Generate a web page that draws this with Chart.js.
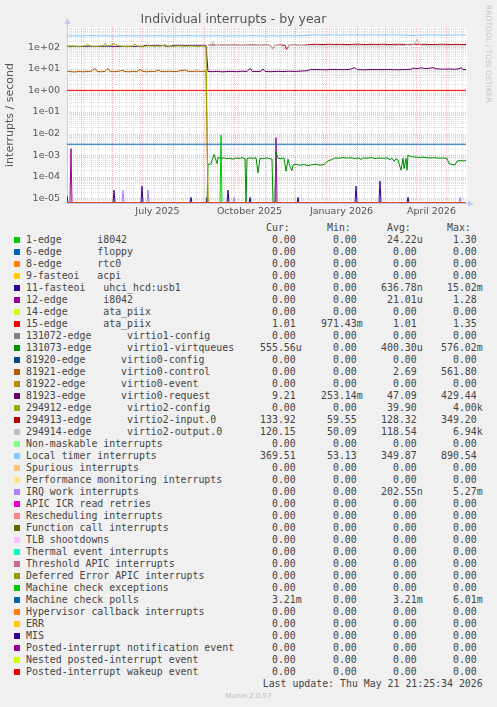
<!DOCTYPE html>
<html>
<head>
<meta charset="utf-8">
<script src="https://cdn.jsdelivr.net/npm/chart.js@4.4.1/dist/chart.umd.min.js"></script>
<style>
  html, body { margin: 0; padding: 0; background: #f0f0f0; }
  body { width: 497px; height: 707px; position: relative; overflow: hidden; }
  #chart { position: absolute; left: 0; top: 0; }
  .mono { position: absolute; white-space: pre; font-family: "DejaVu Sans Mono", monospace; font-size: 9.9px; line-height: 12px; color: #444; }
  .box { position: absolute; width: 6px; height: 6px; }
  #watermark { position: absolute; left: 484px; top: 5px; writing-mode: vertical-rl; font-family: "DejaVu Sans", sans-serif; font-size: 7.6px; line-height: 8px; color: #c4c4c4; white-space: nowrap; }
  #munin { position: absolute; left: 0; width: 497px; top: 691px; text-align: center; font-family: "DejaVu Sans", sans-serif; font-size: 7px; line-height: 10px; color: #bbb; }
</style>
</head>
<body>
<canvas id="chart" width="497" height="222"></canvas>
<div id="legend"></div>
<div id="watermark">RRDTOOL / TOBI OETIKER</div>
<div id="munin">Munin 2.0.57</div>
<script>
// x values are days since 17 Apr 2025 (left edge of the graph)
const xTickDays = [90.5, 182.5, 274.5, 364.5];
const xTickLabels = ["July 2025", "October 2025", "January 2026", "April 2026"];
const monthStartDays = [14, 45, 75, 106, 137, 167, 198, 228, 259, 290, 318, 349, 379];
const yTickValues = [1e-5, 1e-4, 1e-3, 1e-2, 1e-1, 1e0, 1e1, 1e2];
const yTickLabels = ["1e-05", "1e-04", "1e-03", "1e-02", "1e-01", "1e+00", "1e+01", "1e+02"];

const legendNames = [
  "1-edge      i8042", "6-edge      floppy", "8-edge      rtc0", "9-fasteoi   acpi",
  "11-fasteoi   uhci_hcd:usb1", "12-edge      i8042", "14-edge      ata_piix", "15-edge      ata_piix",
  "131072-edge      virtio1-config", "131073-edge      virtio1-virtqueues",
  "81920-edge      virtio0-config", "81921-edge      virtio0-control", "81922-edge      virtio0-event",
  "81923-edge      virtio0-request", "294912-edge      virtio2-config", "294913-edge      virtio2-input.0",
  "294914-edge      virtio2-output.0", "Non-maskable interrupts", "Local timer interrupts",
  "Spurious interrupts", "Performance monitoring interrupts", "IRQ work interrupts",
  "APIC ICR read retries", "Rescheduling interrupts", "Function call interrupts", "TLB shootdowns",
  "Thermal event interrupts", "Threshold APIC interrupts", "Deferred Error APIC interrupts",
  "Machine check exceptions", "Machine check polls", "Hypervisor callback interrupts", "ERR", "MIS",
  "Posted-interrupt notification event", "Nested posted-interrupt event", "Posted-interrupt wakeup event"
];
const curValues = ["0.00","0.00","0.00","0.00","0.00","0.00","0.00","1.01","0.00","555.56u","0.00","0.00","0.00","9.21","0.00","133.92","120.15","0.00","369.51","0.00","0.00","0.00","0.00","0.00","0.00","0.00","0.00","0.00","0.00","0.00","3.21m","0.00","0.00","0.00","0.00","0.00","0.00"];
const minValues = ["0.00","0.00","0.00","0.00","0.00","0.00","0.00","971.43m","0.00","0.00","0.00","0.00","0.00","253.14m","0.00","59.55","50.09","0.00","53.13","0.00","0.00","0.00","0.00","0.00","0.00","0.00","0.00","0.00","0.00","0.00","0.00","0.00","0.00","0.00","0.00","0.00","0.00"];
const avgValues = ["24.22u","0.00","0.00","0.00","636.78n","21.01u","0.00","1.01","0.00","400.30u","0.00","2.69","0.00","47.09","39.90","128.32","118.54","0.00","349.87","0.00","0.00","202.55n","0.00","0.00","0.00","0.00","0.00","0.00","0.00","0.00","3.21m","0.00","0.00","0.00","0.00","0.00","0.00"];
const maxValues = ["1.30","0.00","0.00","0.00","15.02m","1.28","0.00","1.35","0.00","576.02m","0.00","561.80","0.00","429.44","4.00k","349.20","6.94k","0.00","890.54","0.00","0.00","5.27m","0.00","0.00","0.00","0.00","0.00","0.00","0.00","0.00","6.01m","0.00","0.00","0.00","0.00","0.00","0.00"];

// munin default palette
const colors = ["#00cc00","#0066b3","#ff8000","#ffcc00","#330099","#990099","#ccff00","#ff0000","#808080","#008f00",
  "#00487d","#b35a00","#b38f00","#6b006b","#8fb300","#b30000","#bebebe","#80ff80","#80c9ff","#ffc080",
  "#ffe680","#aa80ff","#ee00cc","#ff8080","#666600","#ffbfff","#00ffcc","#cc6699","#999900","#00cc00",
  "#0066b3","#ff8000","#ffcc00","#330099","#990099","#ccff00","#ff0000"];

// [day, value] pairs
const zeroSeries = [[0, 0], [399, 0]];
const edge1 = [[0, 0], [153, 0], [154, 0.0085], [155, 0], [399, 0]];
const fasteoi11 = [[0, 0.000013], [1, 0], [46, 0], [47, 0.000024], [48, 0], [74, 0], [75, 0.000037], [76, 0],
  [123, 0], [124, 0.000011], [125, 0], [139, 0], [140, 0.000011], [141, 0], [160, 0], [161, 0.000024], [162, 0],
  [182, 0], [183, 0.000011], [184, 0], [230, 0], [231, 0.000011], [232, 0], [288, 0], [289, 0.000037], [290, 0],
  [312, 0], [313, 0.000063], [314, 0], [340, 0], [341, 0.000011], [342, 0], [399, 0]];
const edge12 = [[0, 0], [3, 0], [4, 0.002], [5, 0], [208, 0], [209, 0.0065], [210, 0], [399, 0]];
const edge15 = [[0, 1.01], [399, 1.01]];
const edge131073 = [[0, 0], [140, 0], [141, 0.00037], [144, 0.0004], [147, 0.00108], [150, 0.00041], [151, 0.00078],
  [154, 0.0007], [157, 0.00075], [160, 0.00068], [163, 0.00072], [166, 0.00065], [169, 0.00074], [172, 0.0007],
  [175, 0.00077], [178, 0.00068], [179, 0], [180, 0.0007], [183, 0.00074], [186, 0.00071], [189, 0.00076],
  [191, 0.00015], [193, 0.00072], [196, 0.00068], [199, 0.00075], [202, 0.0007], [205, 0.00066], [206, 0],
  [208, 0], [209, 0.00142], [211, 0.00072], [214, 0.00068], [217, 0.00075], [219, 0.00018], [221, 0.00065],
  [223, 0.00029], [225, 0.00019], [226, 0.00035], [229, 0.00038], [233, 0.00034], [237, 0.00037], [241, 0.00033],
  [245, 0.00036], [249, 0.00038], [253, 0.00034], [257, 0.00037], [261, 0.00054], [265, 0.00063], [268, 0.00075],
  [272, 0.00072], [276, 0.00078], [280, 0.00073], [284, 0.00076], [288, 0.0007], [292, 0.00074], [294, 0.00062],
  [296, 0.00075], [300, 0.00072], [304, 0.00077], [308, 0.0007], [312, 0.00074], [316, 0.00071], [320, 0.00075],
  [323, 0.00062], [325, 0.00072], [327, 0.00052], [329, 0.00068], [331, 0.0006], [334, 0.0002], [336, 0.00072],
  [337, 0.00024], [339, 0.0007], [340, 0.0002], [341, 0.001], [344, 0.00085], [348, 0.00082], [352, 0.00078],
  [356, 0.0008], [360, 0.00076], [364, 0.00074], [368, 0.00077], [372, 0.00072], [376, 0.00074], [380, 0.0007],
  [382, 0.00041], [385, 0.00037], [388, 0.00035], [390, 0.00053], [393, 0.00056], [396, 0.00054], [399, 0.00056]];
const edge81921 = [[0, 7.8], [4, 7.4], [8, 7.2], [12, 7.6], [16, 7.3], [20, 7.5], [24, 7.8], [28, 10.5], [30, 7.6],
  [34, 7.3], [38, 7.7], [41, 10.5], [43, 7.5], [48, 7.4], [52, 7.8], [55, 8.6], [58, 7.5], [62, 7.3], [66, 7.6],
  [70, 7.4], [73, 9.4], [76, 7.6], [80, 7.3], [84, 7.7], [88, 7.5], [91, 8.8], [94, 7.6], [98, 7.4], [102, 7.8],
  [106, 7.5], [110, 7.6], [114, 8.3], [118, 9.0], [121, 7.7], [125, 7.5], [129, 7.9], [133, 7.6], [137, 7.7],
  [139, 7.5], [141, 0], [399, 0]];
const edge81923 = [[0, 110], [3, 112], [10, 109], [20, 111], [30, 110], [40, 112], [50, 110], [60, 111], [70, 110],
  [76, 112], [78, 124], [84, 122], [90, 125], [96, 121], [99, 112], [104, 113], [106, 123], [112, 125], [118, 122],
  [124, 124], [130, 123], [136, 125], [139, 122], [141, 7.6], [146, 7.4], [150, 7.7], [155, 7.3], [160, 7.5],
  [165, 7.6], [170, 7.4], [175, 7.8], [180, 7.6], [183, 10.6], [185, 7.7], [190, 7.5], [194, 7.8], [196, 9.9],
  [198, 7.6], [204, 7.4], [210, 7.7], [216, 7.5], [222, 7.8], [228, 7.6], [234, 7.9], [240, 8.2], [243, 9.2],
  [250, 9.3], [258, 9.1], [266, 9.4], [274, 9.2], [282, 9.3], [288, 11.4], [290, 9.2], [298, 9.1], [306, 9.3],
  [314, 9.2], [322, 9.4], [330, 9.1], [338, 9.3], [344, 9.6], [346, 10.8], [350, 10.3], [354, 11.2], [358, 10.4],
  [362, 10.6], [366, 11.3], [370, 10.0], [376, 9.7], [382, 9.9], [388, 9.6], [392, 10.1], [394, 11.4], [396, 9.5],
  [399, 9.2]];
const edge294912 = [[0, 112], [6, 114], [12, 110], [18, 116], [21, 140], [23, 113], [30, 110], [36, 118], [38, 150],
  [40, 113], [45, 132], [47, 148], [50, 124], [55, 112], [60, 110], [66, 114], [68, 142], [70, 112], [76, 110],
  [82, 116], [88, 112], [94, 113], [98, 135], [100, 112], [106, 110], [112, 115], [118, 112], [124, 114],
  [130, 111], [136, 113], [139, 112], [141, 0], [399, 0]];
const edge294913 = [[141, 125], [146, 128], [150, 124], [156, 127], [162, 125], [168, 128], [174, 124], [180, 126],
  [186, 129], [192, 125], [198, 127], [203, 124], [206, 85], [208, 124], [214, 128], [218, 123], [220, 78],
  [222, 125], [228, 127], [234, 124], [240, 128], [244, 136], [250, 138], [256, 135], [262, 139], [268, 136],
  [274, 138], [280, 134], [286, 137], [292, 139], [298, 135], [304, 138], [310, 136], [316, 139], [322, 134],
  [328, 137], [334, 138], [340, 135], [346, 139], [352, 136], [358, 138], [364, 134], [370, 137], [376, 139],
  [382, 135], [388, 137], [394, 136], [399, 134]];
const edge294914 = [[141, 122], [144, 124], [146, 180], [148, 122], [154, 120], [160, 123], [166, 121], [172, 124],
  [178, 120], [184, 122], [190, 121], [196, 123], [203, 120], [206, 80], [208, 121], [214, 122], [220, 74],
  [222, 120], [228, 121], [234, 119], [240, 120], [244, 116], [250, 115], [256, 117], [262, 114], [268, 116],
  [274, 115], [280, 117], [286, 114], [292, 116], [298, 115], [304, 117], [310, 114], [316, 116], [322, 115],
  [328, 117], [332, 125], [336, 118], [340, 130], [344, 122], [348, 150], [350, 240], [352, 150], [354, 124],
  [358, 118], [364, 116], [370, 115], [376, 117], [382, 114], [388, 116], [394, 115], [399, 120]];
const localTimer = [[0, 338], [8, 342], [16, 335], [24, 345], [32, 338], [40, 340], [48, 333], [56, 343], [64, 337],
  [72, 340], [80, 336], [88, 342], [96, 338], [104, 335], [112, 341], [120, 344], [128, 338], [136, 341],
  [144, 339], [152, 342], [160, 336], [168, 340], [176, 338], [184, 344], [192, 339], [200, 337], [208, 341],
  [216, 338], [224, 342], [232, 340], [240, 352], [244, 368], [252, 370], [260, 367], [268, 371], [276, 369],
  [284, 372], [292, 368], [300, 370], [308, 371], [316, 369], [324, 372], [332, 370], [340, 366], [344, 348],
  [348, 345], [352, 367], [360, 370], [368, 369], [376, 371], [384, 368], [392, 370], [399, 370]];
const irqWork = [[0, 0], [55, 0], [56, 0.000024], [57, 0], [80, 0], [81, 0.000024], [82, 0], [166, 0],
  [167, 0.000011], [168, 0], [392, 0], [393, 0.000011], [394, 0], [399, 0]];
const mcePolls = [[0, 0.00321], [399, 0.00321]];

const seriesData = [edge1, zeroSeries, zeroSeries, zeroSeries, fasteoi11, edge12, zeroSeries, edge15,
  zeroSeries, edge131073, zeroSeries, edge81921, zeroSeries, edge81923, edge294912, edge294913, edge294914,
  zeroSeries, localTimer, zeroSeries, zeroSeries, irqWork, zeroSeries, zeroSeries, zeroSeries, zeroSeries,
  zeroSeries, zeroSeries, zeroSeries, zeroSeries, mcePolls, zeroSeries, zeroSeries, zeroSeries, zeroSeries,
  zeroSeries, zeroSeries];

const Y_MIN = Math.pow(10, -5.218);
const Y_MAX = Math.pow(10, 2.941);

// rrdtool puts zero at the floor of a log graph
const datasets = seriesData.map((pairs, i) => ({
  label: legendNames[i],
  data: pairs.map(([d, v]) => ({ x: d, y: v === 0 ? Y_MIN : v })),
  borderColor: colors[i],
  borderWidth: 1,
  pointRadius: 0,
  fill: false,
  tension: 0,
  order: -i
}));

const rrdGrid = {
  id: "rrdGrid",
  beforeDraw(chart) {
    const { ctx, chartArea: a } = chart;
    ctx.save();
    ctx.fillStyle = "#ffffff";
    ctx.fillRect(a.left, a.top, a.right - a.left, a.bottom - a.top);
    ctx.restore();
  },
  beforeDatasetsDraw(chart) {
    const { ctx, chartArea: a, scales } = chart;
    const xs = scales.x, ys = scales.y;
    ctx.save();
    ctx.lineWidth = 1;
    ctx.setLineDash([1, 1]);
    const vline = (px, color) => {
      const x = Math.round(px) + 0.5;
      ctx.strokeStyle = color;
      ctx.beginPath(); ctx.moveTo(x, a.top); ctx.lineTo(x, a.bottom); ctx.stroke();
    };
    const hline = (py, color) => {
      const y = Math.round(py) + 0.5;
      ctx.strokeStyle = color;
      ctx.beginPath(); ctx.moveTo(a.left, y); ctx.lineTo(a.right, y); ctx.stroke();
    };
    const minor = "rgba(200,200,200,0.6)";
    const major = "rgba(240,120,120,0.5)";
    // weekly minor lines
    for (let d = 3; d < 400; d += 7) vline(xs.getPixelForValue(d), minor);
    for (let e = -6; e <= 2; e++) {
      for (let m = 2; m <= 9; m++) {
        const v = m * Math.pow(10, e);
        if (v > Y_MIN && v < Y_MAX) hline(ys.getPixelForValue(v), minor);
      }
    }
    monthStartDays.forEach(d => vline(xs.getPixelForValue(d), major));
    yTickValues.forEach(v => hline(ys.getPixelForValue(v), major));
    ctx.setLineDash([]);
    ctx.strokeStyle = "#c8c8f4";
    ctx.beginPath();
    ctx.moveTo(a.left + 0.5, a.bottom); ctx.lineTo(a.left + 0.5, a.top - 4);
    ctx.moveTo(a.left, a.bottom + 0.5); ctx.lineTo(a.right + 2, a.bottom + 0.5);
    ctx.stroke();
    ctx.restore();
  },
  afterDatasetsDraw(chart) {
    const { ctx, chartArea: a } = chart;
    ctx.save();
    ctx.fillStyle = "#c8c8f4";
    ctx.beginPath();
    ctx.moveTo(a.left + 0.5, a.top - 9); ctx.lineTo(a.left - 2.5, a.top - 3); ctx.lineTo(a.left + 3.5, a.top - 3);
    ctx.closePath(); ctx.fill();
    ctx.beginPath();
    ctx.moveTo(a.right + 7, a.bottom + 0.5); ctx.lineTo(a.right + 1, a.bottom - 2.5); ctx.lineTo(a.right + 1, a.bottom + 3.5);
    ctx.closePath(); ctx.fill();
    ctx.restore();
  }
};

new Chart(document.getElementById("chart"), {
  type: "line",
  data: { datasets },
  options: {
    responsive: false,
    animation: false,
    events: [],
    layout: { padding: { left: 0, right: 30, top: 0, bottom: 0 } },
    plugins: {
      legend: { display: false },
      tooltip: { enabled: false },
      title: {
        display: true,
        text: "Individual interrupts - by year",
        color: "#555",
        font: { family: "DejaVu Sans", size: 12.5, weight: "normal", lineHeight: 1 },
        padding: { top: 13.5, bottom: 1 }
      }
    },
    scales: {
      x: {
        type: "linear",
        min: 0,
        max: 400,
        grid: { display: false, drawTicks: false },
        border: { display: false },
        ticks: {
          color: "#555",
          font: { family: "DejaVu Sans", size: 9.5 },
          padding: 3,
          autoSkip: false,
          maxRotation: 0,
          callback: (v, i) => xTickLabels[i]
        },
        afterBuildTicks: s => { s.ticks = xTickDays.map(v => ({ value: v })); },
        afterFit: s => { s.height = 19; }
      },
      y: {
        type: "logarithmic",
        min: Y_MIN,
        max: Y_MAX,
        grid: { display: false, drawTicks: false },
        border: { display: false },
        title: {
          display: true,
          text: "interrupts / second",
          color: "#555",
          font: { family: "DejaVu Sans", size: 11 },
          padding: { top: 4, bottom: 0 }
        },
        ticks: {
          color: "#555",
          font: { family: "DejaVu Sans", size: 9.5 },
          padding: 7,
          autoSkip: false,
          callback: (v, i) => yTickLabels[i]
        },
        afterBuildTicks: s => { s.ticks = yTickValues.map(v => ({ value: v })); },
        afterFit: s => { s.width = 67; }
      }
    }
  },
  plugins: [rrdGrid]
});

// legend block under the graph
const legend = document.getElementById("legend");
const colRight = [301.7, 362.7, 422.7, 482.7];
const headers = ["Cur:", "Min:", "Avg:", "Max:"];
function addText(text, top, left, right) {
  const el = document.createElement("div");
  el.className = "mono";
  el.textContent = text;
  el.style.top = top + "px";
  if (left !== null) el.style.left = left + "px";
  else el.style.right = (497 - right) + "px";
  legend.appendChild(el);
}
headers.forEach((h, c) => addText(h + "\u00a0\u00a0", 222, null, colRight[c]));
legendNames.forEach((name, i) => {
  const top = 234 + 12 * i;
  const box = document.createElement("div");
  box.className = "box";
  box.style.left = "14px";
  box.style.top = (top + 3) + "px";
  box.style.background = colors[i];
  legend.appendChild(box);
  addText(name, top, 26, null);
  [curValues, minValues, avgValues, maxValues].forEach((col, c) => {
    const v = col[i];
    addText(/[0-9]$/.test(v) ? v + "\u00a0" : v, top, null, colRight[c]);
  });
});
addText("Last update: Thu May 21 21:25:34 2026", 678, null, 482.7);
</script>
</body>
</html>
